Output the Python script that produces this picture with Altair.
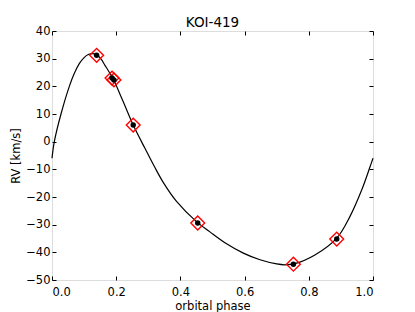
import altair as alt
import pandas as pd

# model RV curve (orbital phase, RV km/s)
curve_phase = [0.0, 0.0072, 0.028, 0.054, 0.070, 0.085, 0.100, 0.113, 0.127, 0.140,
               0.153, 0.165, 0.178, 0.190, 0.222, 0.253, 0.290, 0.319, 0.347, 0.388,
               0.450, 0.492, 0.544, 0.596, 0.648, 0.700, 0.725, 0.757, 0.819, 0.887,
               0.928, 0.965, 0.991, 1.0]
curve_rv = [-6.0, 0.0, 10.0, 20.0, 24.8, 28.2, 30.4, 31.5, 31.8, 31.3,
            29.8, 27.6, 25.2, 22.8, 14.4, 6.0, -2.5, -9.0, -14.8, -21.6,
            -28.9, -32.6, -36.9, -40.3, -42.7, -44.2, -44.5, -44.1, -41.0, -34.9,
            -27.1, -17.4, -9.0, -6.0]

# observed RVs
obs_phase = [0.139, 0.187, 0.193, 0.253, 0.454, 0.752, 0.887]
obs_rv = [31.2, 23.0, 22.3, 6.0, -29.4, -44.3, -35.2]

x_ticks = [0.0, 0.2, 0.4, 0.6, 0.8, 1.0]
y_ticks = [-50, -40, -30, -20, -10, 0, 10, 20, 30, 40]

curve_df = pd.DataFrame({"phase": curve_phase, "rv": curve_rv})
obs_df = pd.DataFrame({"phase": obs_phase, "rv": obs_rv})

xscale = alt.Scale(domain=[0, 1], nice=False, zero=False)
yscale = alt.Scale(domain=[-50, 40], nice=False, zero=False)

FONT = "DejaVu Sans"
tick_grid = dict(grid=True, gridDash=[4, 2000], gridColor="black",
                 gridOpacity=1, gridWidth=1, ticks=False, tickSize=0, domain=False)
text_style = dict(labelFont=FONT, labelFontSize=11.5, labelColor="black",
                  titleFont=FONT, titleFontSize=11.5, titleColor="black",
                  titleFontWeight="normal")

line = alt.Chart(curve_df).mark_line(color="black", strokeWidth=1.2,
                                     interpolate="catmull-rom").encode(
    x=alt.X("phase:Q", scale=xscale,
            axis=alt.Axis(orient="bottom", values=x_ticks, format=".1f", title="orbital phase",
                          labelPadding=6, titlePadding=3, **tick_grid, **text_style)),
    y=alt.Y("rv:Q", scale=yscale,
            axis=alt.Axis(orient="left", values=y_ticks, format="d", title="RV [km/s]",
                          labelPadding=2, titlePadding=4, **tick_grid, **text_style)),
)

diamonds = alt.Chart(obs_df).mark_point(shape="diamond", size=190, color="#ff0000",
                                        strokeWidth=1.4, filled=False, opacity=1).encode(
    x=alt.X("phase:Q", scale=xscale,
            axis=alt.Axis(orient="top", values=x_ticks, labels=False, title=None, **tick_grid)),
    y=alt.Y("rv:Q", scale=yscale,
            axis=alt.Axis(orient="right", values=y_ticks, labels=False, title=None, **tick_grid)),
)

dots = alt.Chart(obs_df).mark_circle(size=30, color="black", opacity=1).encode(
    x=alt.X("phase:Q", scale=xscale, axis=None),
    y=alt.Y("rv:Q", scale=yscale, axis=None),
)

chart = alt.layer(line, diamonds, dots).resolve_axis(
    x="independent", y="independent"
).properties(
    width=321,
    height=249,
    autosize=alt.AutoSizeParams(type="none"),
    padding={"left": 44, "top": 23, "right": 34, "bottom": 32},
    title=alt.TitleParams("KOI-419", fontSize=13.5, font=FONT, fontWeight="normal",
                          color="black", baseline="alphabetic", offset=4, dy=19,
                          anchor="middle"),
).configure_view(
    stroke="black", strokeWidth=1
).configure(background="white")

chart.save("out.html", embed_options={"renderer": "svg", "actions": False})
